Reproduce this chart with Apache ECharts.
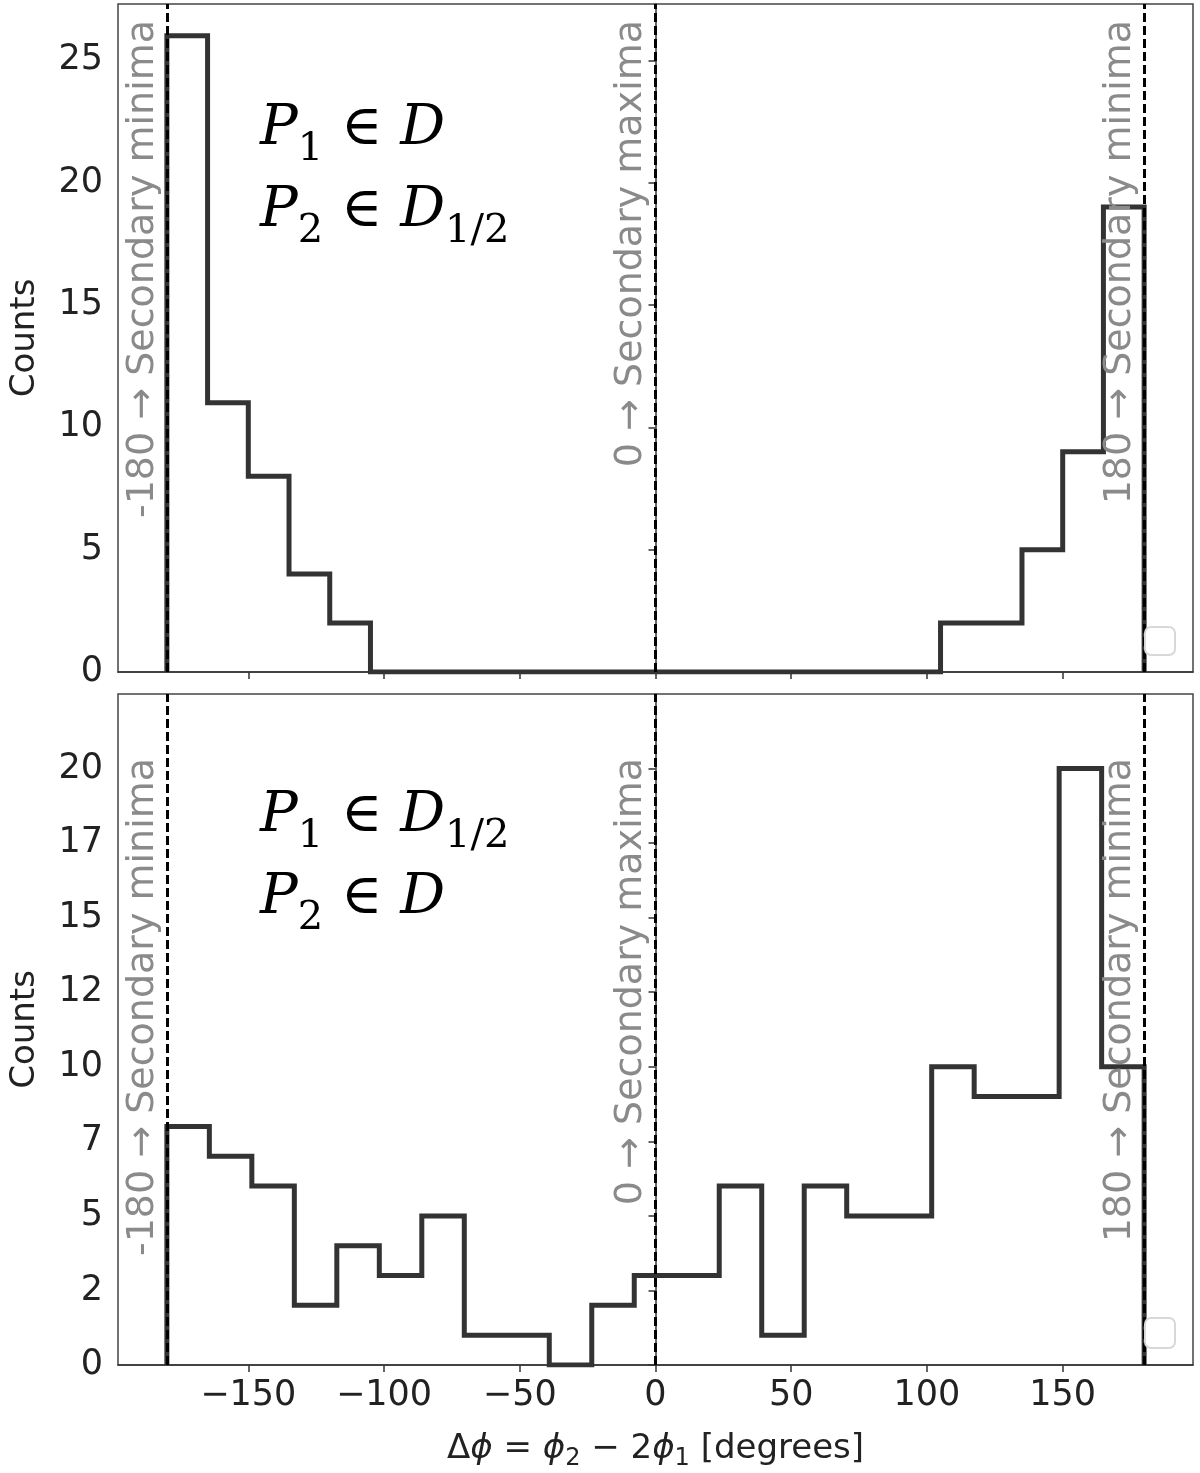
<!DOCTYPE html>
<html>
<head>
<meta charset="utf-8">
<script src="https://cdn.jsdelivr.net/npm/echarts@6/dist/echarts.min.js"></script>
<style>
  html, body { margin: 0; padding: 0; background: #fff; }
  #chart { width: 1200px; height: 1473px; }
</style>
</head>
<body>
<div id="chart"></div>
<script>
// histogram bins: top panel 24 bins of 15 deg, bottom panel 23 bins over [-180, 180]
var topBinCount = 24
var bottomBinCount = 23
var topCounts = [26, 11, 8, 4, 2, 0, 0, 0, 0, 0, 0, 0, 0, 0, 0, 0, 0, 0, 0, 2, 2, 5, 9, 19]
var bottomCounts = [8, 7, 6, 2, 4, 3, 5, 1, 1, 0, 2, 3, 3, 6, 1, 6, 5, 5, 10, 9, 9, 20, 10]
var refLines = [-180, 0, 180]
var refLabels = ['-180 \u2192 Secondary minima', '0 \u2192 Secondary maxima', '180 \u2192 Secondary minima']
var xTicks = [-150, -100, -50, 0, 50, 100, 150]
var topYTicks = [0, 5, 10, 15, 20, 25]
var bottomYTicks = [0, 2.5, 5, 7.5, 10, 12.5, 15, 17.5, 20]

function binEdges (n) {
  var edges = []
  for (var i = 0; i <= n; i++) edges.push(-180 + i * 360 / n)
  return edges
}

function stepPoints (edges, counts) {
  var pts = [[edges[0], 0]]
  counts.forEach(function (c, i) {
    pts.push([edges[i], c])
    pts.push([edges[i + 1], c])
  })
  pts.push([edges[edges.length - 1], 0])
  return pts
}

var font = 'DejaVu Sans'
var chart = echarts.init(document.getElementById('chart'), null, { renderer: 'canvas' })

function xAxisFor (idx, showLabels) {
  return {
    type: 'value',
    gridIndex: idx,
    min: -198,
    max: 198,
    axisLine: { show: true, onZero: false, lineStyle: { color: '#333', width: 1.5 } },
    axisTick: { show: true, length: 7, customValues: xTicks, lineStyle: { color: '#333', width: 1.5 } },
    axisLabel: {
      show: showLabels,
      customValues: xTicks,
      margin: 13,
      fontFamily: font,
      fontSize: 35,
      color: '#222',
      formatter: function (v) { return String(v).replace('-', '\u2212') }
    },
    splitLine: { show: false }
  }
}

function yAxisFor (idx, max, ticks) {
  return {
    type: 'value',
    gridIndex: idx,
    min: 0,
    max: max,
    name: 'Counts',
    nameLocation: 'middle',
    nameGap: 76,
    nameTextStyle: { fontFamily: font, fontSize: 34, color: '#222' },
    axisLine: { show: true, lineStyle: { color: '#333', width: 1.5 } },
    axisTick: { show: true, length: 7, customValues: ticks, lineStyle: { color: '#333', width: 1.5 } },
    axisLabel: {
      customValues: ticks,
      margin: 15,
      fontFamily: font,
      fontSize: 35,
      color: '#222',
      formatter: function (v) { return String(Math.floor(v)) }
    },
    splitLine: { show: false }
  }
}

function refSeries (idx) {
  return {
    type: 'line',
    xAxisIndex: idx,
    yAxisIndex: idx,
    data: [],
    z: 5,
    silent: true,
    markLine: {
      symbol: ['none', 'none'],
      silent: true,
      label: { show: false },
      lineStyle: { color: '#000', width: 3, type: [9, 4] },
      data: refLines.map(function (v) { return { xAxis: v } })
    }
  }
}

var xAxisBottom = xAxisFor(1, true)
xAxisBottom.name = '{n|\u0394}{i|\u03d5}{n| = }{i|\u03d5}{s|2}{n| \u2212 2}{i|\u03d5}{s|1}{n| [degrees]}'
xAxisBottom.nameLocation = 'middle'
xAxisBottom.nameGap = 62
xAxisBottom.nameTextStyle = {
  fontFamily: font,
  fontSize: 34,
  color: '#222',
  rich: {
    n: { fontFamily: font, fontSize: 34, lineHeight: 44, color: '#222' },
    i: { fontFamily: font, fontStyle: 'italic', fontSize: 34, lineHeight: 44, color: '#222' },
    s: { fontFamily: font, fontSize: 24, lineHeight: 24, verticalAlign: 'bottom', color: '#222' }
  }
}

var option = {
  backgroundColor: '#fff',
  animation: false,
  grid: [
    { left: 117, top: 4, width: 1076, height: 668, show: true, borderColor: '#444', borderWidth: 1.5 },
    { left: 117, top: 694, width: 1076, height: 671, show: true, borderColor: '#444', borderWidth: 1.5 }
  ],
  xAxis: [xAxisFor(0, false), xAxisBottom],
  yAxis: [yAxisFor(0, 27.3, topYTicks), yAxisFor(1, 22.5, bottomYTicks)],
  series: [
    {
      type: 'line',
      xAxisIndex: 0,
      yAxisIndex: 0,
      data: stepPoints(binEdges(topBinCount), topCounts),
      symbol: 'none',
      z: 2,
      lineStyle: { color: '#333', width: 5, join: 'miter' }
    },
    {
      type: 'line',
      xAxisIndex: 1,
      yAxisIndex: 1,
      data: stepPoints(binEdges(bottomBinCount), bottomCounts),
      symbol: 'none',
      z: 2,
      lineStyle: { color: '#333', width: 5, join: 'miter' }
    },
    refSeries(0),
    refSeries(1)
  ]
}
chart.setOption(option)

// annotations: rotated labels next to the reference lines, panel captions, empty legend frames
var mathRich = {
  P: { fontFamily: 'DejaVu Serif', fontStyle: 'italic', fontSize: 56, lineHeight: 82, fill: '#000' },
  m: { fontFamily: 'DejaVu Serif', fontSize: 56, lineHeight: 82, fill: '#000' },
  s: { fontFamily: 'DejaVu Serif', fontSize: 40, lineHeight: 40, verticalAlign: 'bottom', fill: '#000' }
}
var graphics = []
var textTops = [20, 758]
for (var g = 0; g < 2; g++) {
  refLines.forEach(function (v, i) {
    var px = chart.convertToPixel({ xAxisIndex: g }, v)
    graphics.push({
      type: 'text',
      x: px - 5,
      y: textTops[g],
      rotation: Math.PI / 2,
      silent: true,
      z: 10,
      style: {
        text: refLabels[i],
        fill: '#8a8a8a',
        font: '38px "DejaVu Sans"',
        align: 'right',
        verticalAlign: 'bottom'
      }
    })
  })
}
graphics.push({
  type: 'text', x: 260, y: 88, z: 10, silent: true,
  style: { text: '{P|P}{s|1}{m| \u2208 }{P|D}\n{P|P}{s|2}{m| \u2208 }{P|D}{s|1/2}', rich: mathRich }
})
graphics.push({
  type: 'text', x: 260, y: 775, z: 10, silent: true,
  style: { text: '{P|P}{s|1}{m| \u2208 }{P|D}{s|1/2}\n{P|P}{s|2}{m| \u2208 }{P|D}', rich: mathRich }
})
graphics.push({
  type: 'rect', z: 10, silent: true,
  shape: { x: 1145, y: 627, width: 30, height: 28, r: 6 },
  style: { fill: '#fff', stroke: '#d8d8d8', lineWidth: 2 }
})
graphics.push({
  type: 'rect', z: 10, silent: true,
  shape: { x: 1145, y: 1318, width: 30, height: 30, r: 6 },
  style: { fill: '#fff', stroke: '#d8d8d8', lineWidth: 2 }
})
chart.setOption({ graphic: graphics })
</script>
</body>
</html>
